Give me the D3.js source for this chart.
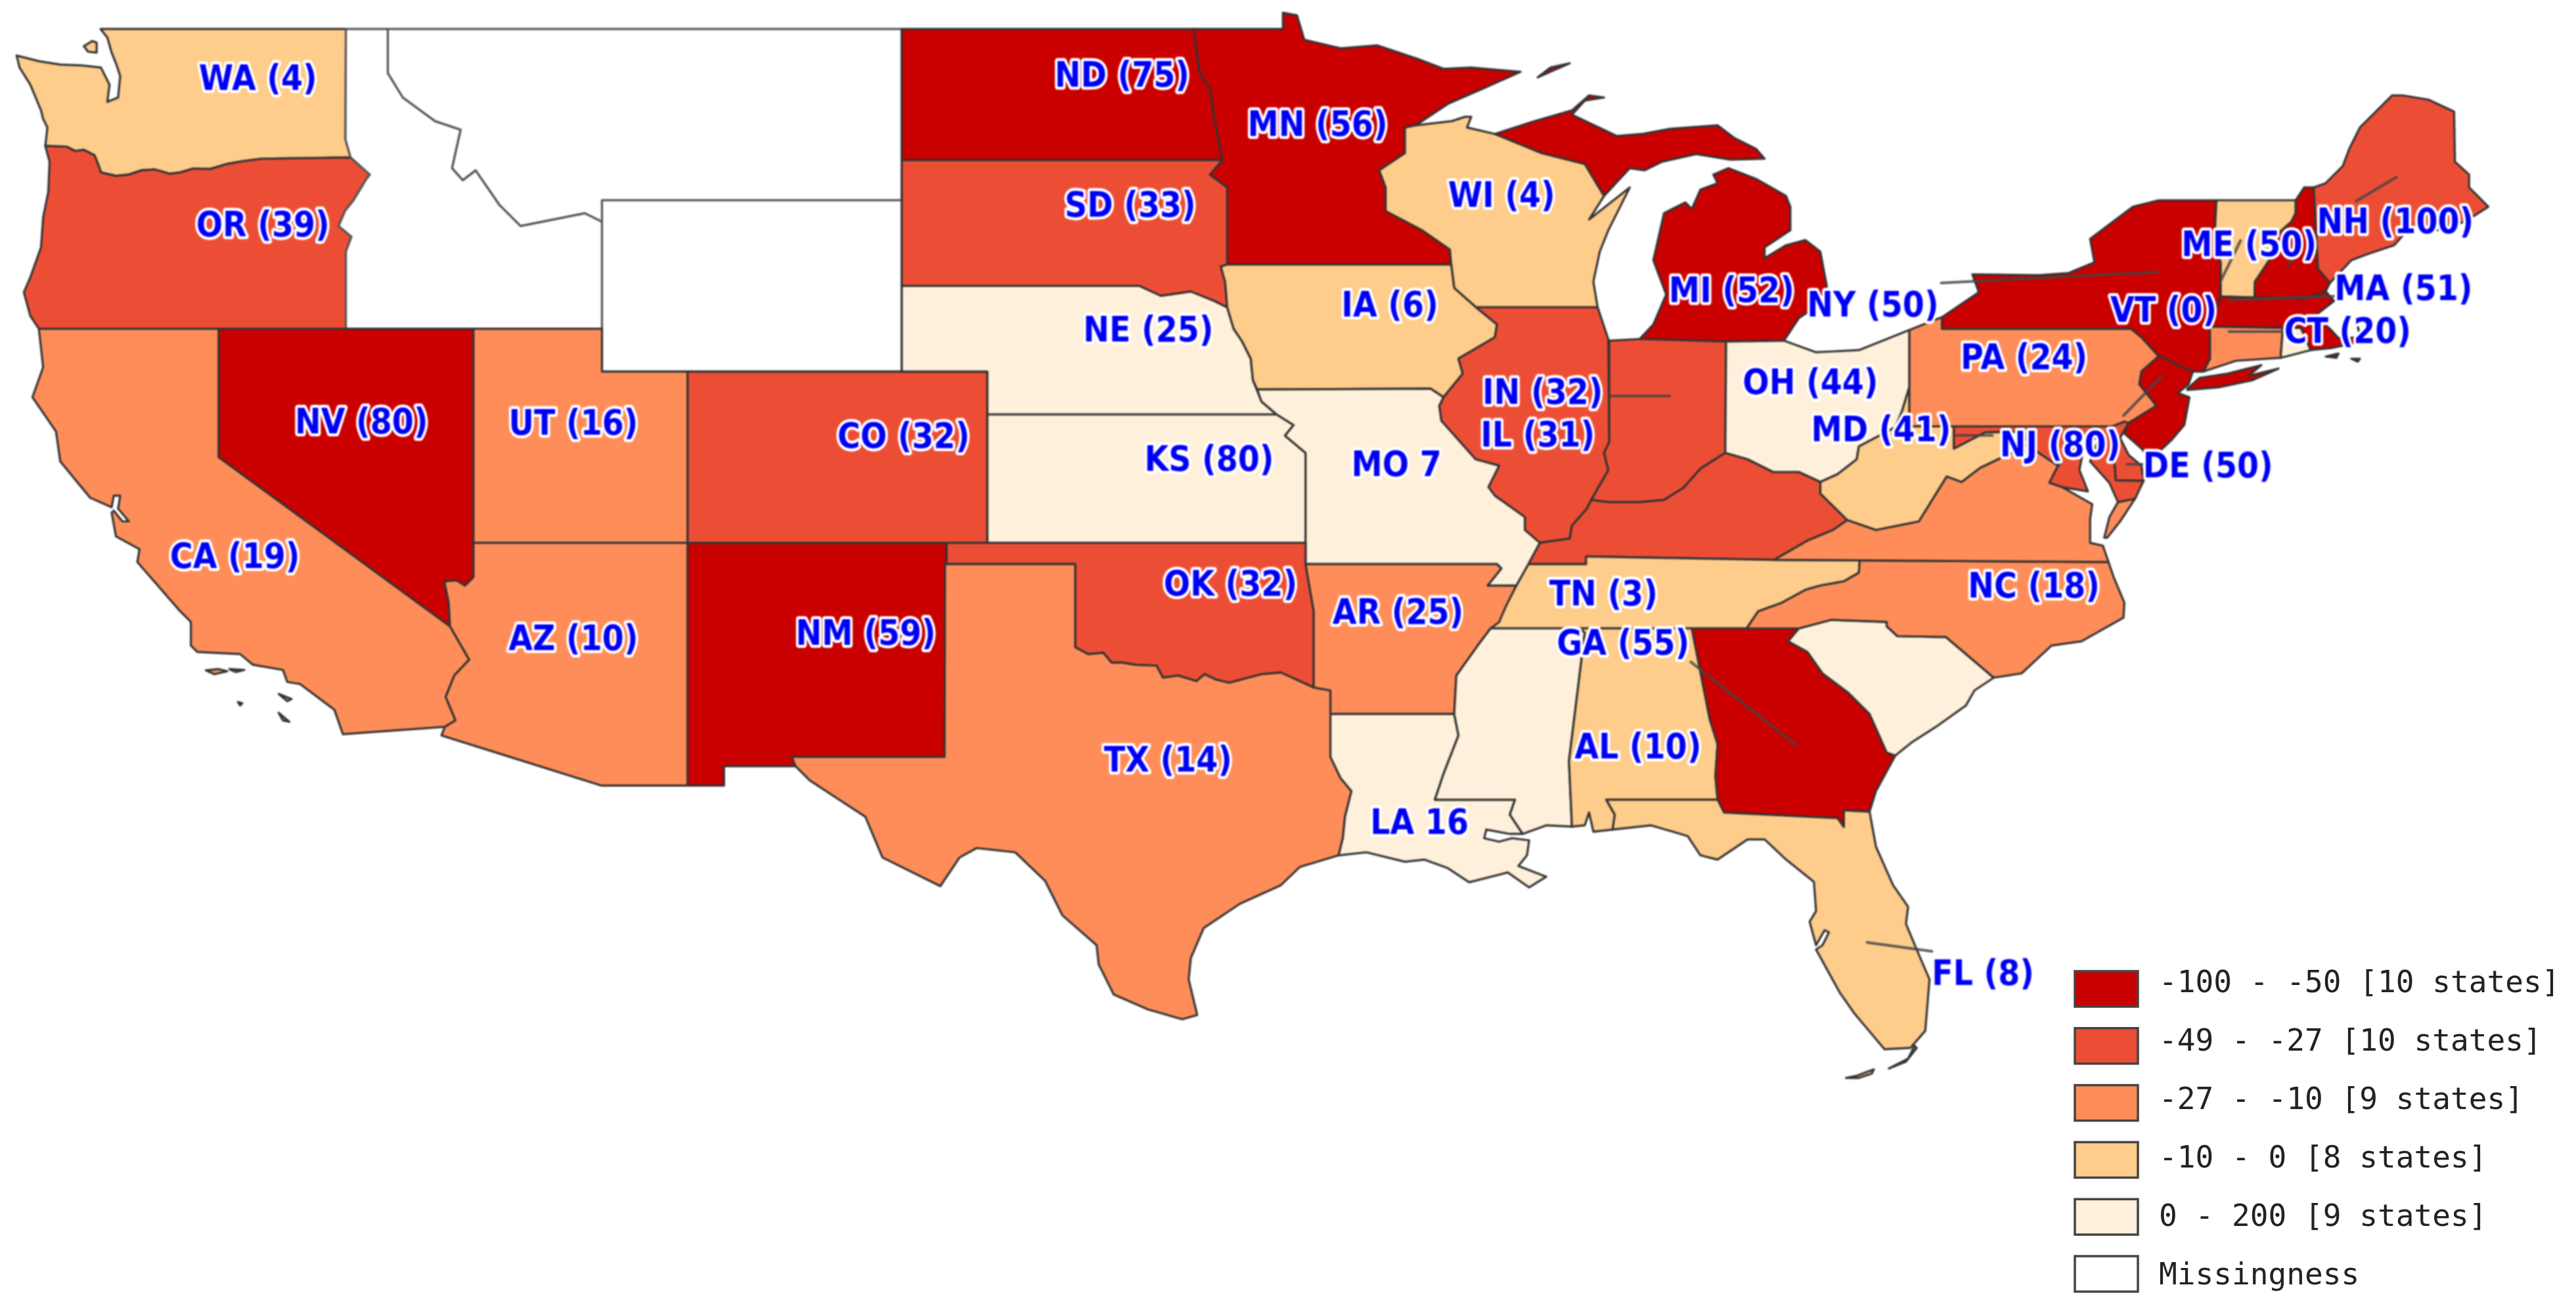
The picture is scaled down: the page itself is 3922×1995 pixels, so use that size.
<!DOCTYPE html>
<html><head><meta charset="utf-8">
<script src="https://cdn.jsdelivr.net/npm/d3@7"></script>
<style>html,body{margin:0;padding:0;background:#fff}svg{display:block}</style>
</head><body><div id="chart"></div>
<script>
// ---------- data: legend classes ----------
const classLabels = ["-100 - -50 [10 states]","-49 - -27 [10 states]","-27 - -10 [9 states]","-10 - 0 [8 states]","0 - 200 [9 states]","Missingness"];
const classColors = ["#ca0000","#ec4e35","#fe8d5a","#fecc8b","#fef0da","#ffffff"];
const classStates = [
  ["ND","MN","MI","NV","NM","GA","NY","NH","NJ","MA"],
  ["OR","SD","CO","IL","IN","OK","KY","ME","MD","DE"],
  ["CA","UT","AZ","TX","AR","NC","VA","PA","CT"],
  ["WA","WI","IA","TN","AL","FL","WV","VT"],
  ["NE","KS","MO","LA","MS","SC","OH","RI","DC"],
  ["ID","MT","WY"]
];
// ---------- data: state labels as printed ----------
const labelTexts = {WA:"WA (4)",OR:"OR (39)",NV:"NV (80)",UT:"UT (16)",CO:"CO (32)",CA:"CA (19)",AZ:"AZ (10)",NM:"NM (59)",ND:"ND (75)",MN:"MN (56)",SD:"SD (33)",WI:"WI (4)",IA:"IA (6)",NE:"NE (25)",KS:"KS (80)",MO:"MO 7",OK:"OK (32)",AR:"AR (25)",TX:"TX (14)",LA:"LA 16",IN:"IN (32)",IL:"IL (31)",TN:"TN (3)",GA:"GA (55)",AL:"AL (10)",MI:"MI (52)",NY:"NY (50)",OH:"OH (44)",MD:"MD (41)",PA:"PA (24)",NJ:"NJ (80)",DE:"DE (50)",NC:"NC (18)",VT:"VT (0)",ME:"ME (50)",NH:"NH (100)",MA:"MA (51)",CT:"CT (20)",FL:"FL (8)"};
// ---------- data: state outlines, [longitude, latitude] ----------
const redRiver=[[-100,34.56],[-99.7,34.4],[-99.34,34.43],[-99.15,34.2],[-98.9,34.2],[-98.6,34.15],[-98.1,34.13],[-97.95,33.85],[-97.6,33.9],[-97.17,33.77],[-96.98,33.93],[-96.7,33.8],[-96.4,33.73],[-95.65,33.93],[-95.2,33.97],[-94.43,33.62]];
const idahoMontana=[[-116.05,49],[-116.05,47.97],[-115.7,47.4],[-114.95,46.85],[-114.35,46.65],[-114.55,45.75],[-114.3,45.47],[-114,45.7],[-113.45,44.9],[-112.95,44.4],[-112.2,44.55],[-111.45,44.7],[-111.05,44.5]];
const WA=[[-117.03,49],[-122.76,49],[-122.6,48.8],[-122.5,48.45],[-122.4,48.2],[-122.3,47.9],[-122.35,47.4],[-122.6,47.3],[-122.55,47.7],[-122.75,48.1],[-123.2,48.15],[-123.7,48.17],[-124.2,48.25],[-124.72,48.38],[-124.65,48.1],[-124.4,47.7],[-124.15,47.1],[-124.1,46.9],[-124,46.7],[-124.05,46.27],[-123.55,46.25],[-123.35,46.15],[-123.15,46.18],[-122.9,46.05],[-122.8,45.8],[-122.75,45.65],[-122.4,45.57],[-122.1,45.6],[-121.8,45.7],[-121.5,45.72],[-121.15,45.62],[-120.9,45.65],[-120.6,45.74],[-120.2,45.73],[-119.8,45.85],[-119.4,45.92],[-119,45.97],[-116.92,46],[-117.04,46.42]];
const WA2=[[-123.15,48.6],[-122.95,48.72],[-122.85,48.68],[-122.85,48.45],[-123.05,48.47]];
const OR=[[-124.05,46.27],[-123.95,45.9],[-123.98,45.2],[-124.1,44.6],[-124.15,43.9],[-124.4,43.2],[-124.55,42.85],[-124.4,42.3],[-124.2,42],[-117.03,42],[-117.03,43.8],[-116.9,44.15],[-117.2,44.4],[-117.05,44.75],[-116.85,45],[-116.55,45.5],[-116.47,45.6],[-116.92,46],[-119,45.97],[-119.4,45.92],[-119.8,45.85],[-120.2,45.73],[-120.6,45.74],[-120.9,45.65],[-121.15,45.62],[-121.5,45.72],[-121.8,45.7],[-122.1,45.6],[-122.4,45.57],[-122.75,45.65],[-122.8,45.8],[-122.9,46.05],[-123.15,46.18],[-123.35,46.15],[-123.55,46.25]];
const ID=[[-117.03,49],...idahoMontana,[-111.05,42],[-117.03,42],[-117.03,43.8],[-116.9,44.15],[-117.2,44.4],[-117.05,44.75],[-116.85,45],[-116.55,45.5],[-116.47,45.6],[-116.92,46],[-117.04,46.42]];
const MT=[[-104.05,49],[-104.05,45],[-111.05,45],...idahoMontana.slice().reverse()];
const WY=[[-111.05,45],[-104.05,45],[-104.05,41],[-111.05,41]];
const CA=[[-124.2,42],[-120,42],[-120,39],[-114.6,35.05],[-114.15,34.27],[-114.5,33.9],[-114.7,33.4],[-114.47,32.85],[-114.72,32.7],[-117.1,32.53],[-117.3,33.1],[-118.1,33.7],[-118.4,33.75],[-118.5,34.03],[-119.2,34.15],[-119.5,34.4],[-120.5,34.45],[-120.65,34.6],[-120.65,35.15],[-120.9,35.4],[-121.9,36.55],[-121.85,36.85],[-122.4,37.15],[-122.5,37.7],[-122.45,37.75],[-122.25,37.5],[-122.1,37.5],[-122.35,37.8],[-122.3,38.1],[-122.45,38.1],[-122.5,37.83],[-123,38.05],[-123.7,38.9],[-123.8,39.6],[-124.35,40.4],[-124.1,41.1]];
const CA2=[[-120.3,34.02],[-120,34.05],[-119.8,34],[-120.1,33.93]];
const CA3=[[-119.75,34.05],[-119.4,34.03],[-119.6,33.98]];
const CA4=[[-119.55,33.28],[-119.45,33.25],[-119.5,33.2]];
const CA5=[[-118.6,33.47],[-118.3,33.35],[-118.4,33.3]];
const CA6=[[-118.6,33.03],[-118.35,32.82],[-118.5,32.85]];
const NV=[[-120,42],[-114.05,42],[-114.05,36.2],[-114.25,36],[-114.45,36.12],[-114.73,36.1],[-114.63,35.6],[-114.6,35.05],[-120,39]];
const UT=[[-114.05,42],[-111.05,42],[-111.05,41],[-109.05,41],[-109.05,37],[-114.05,37]];
const AZ=[[-114.05,37],[-109.05,37],[-109.05,31.33],[-111.07,31.33],[-114.8,32.5],[-114.72,32.7],[-114.47,32.85],[-114.7,33.4],[-114.5,33.9],[-114.15,34.27],[-114.6,35.05],[-114.63,35.6],[-114.73,36.1],[-114.45,36.12],[-114.25,36],[-114.05,36.2]];
const NM=[[-109.05,37],[-103,37],[-103.05,32],[-106.62,32],[-106.53,31.78],[-108.2,31.78],[-108.2,31.33],[-109.05,31.33]];
const CO=[[-109.05,41],[-102.05,41],[-102.05,37],[-109.05,37]];
const KS=[[-102.05,40],[-95.3,40],[-94.9,39.75],[-95.1,39.5],[-94.62,39.1],[-94.62,37],[-102.05,37]];
const NE=[[-104.05,43],[-98.5,43],[-98,42.77],[-97.3,42.87],[-96.75,42.65],[-96.45,42.5],[-96.3,42],[-96.1,41.7],[-95.9,41.3],[-95.85,40.8],[-95.65,40.3],[-95.3,40],[-102.05,40],[-102.05,41],[-104.05,41]];
const SD=[[-104.05,45.94],[-96.56,45.94],[-96.85,45.6],[-96.45,45.3],[-96.45,43.5],[-96.6,43.45],[-96.5,43.1],[-96.45,42.5],[-96.75,42.65],[-97.3,42.87],[-98,42.77],[-98.5,43],[-104.05,43]];
const ND=[[-104.05,49],[-97.23,49],[-97.1,48],[-96.85,47.6],[-96.75,46.9],[-96.56,45.94],[-104.05,45.94]];
const MN=[[-97.23,49],[-95.15,49],[-95.15,49.38],[-94.82,49.32],[-94.65,48.75],[-93.8,48.55],[-92.95,48.62],[-92,48.3],[-91.4,48.07],[-90.75,48.1],[-89.6,48],[-90.5,47.6],[-91.3,47.25],[-92.05,46.75],[-92.3,46.7],[-92.3,46.1],[-92.9,45.7],[-92.75,45.3],[-92.75,44.75],[-91.9,44.3],[-91.25,43.85],[-91.22,43.5],[-96.45,43.5],[-96.45,45.3],[-96.85,45.6],[-96.56,45.94],[-96.75,46.9],[-96.85,47.6],[-97.1,48]];
const MI_ISLE=[[-89.2,47.87],[-88.45,48.2],[-88.9,48.1]];
const WI=[[-92.05,46.75],[-91.2,46.85],[-90.9,46.95],[-90.75,46.95],[-90.85,46.7],[-90.2,46.55],[-89.1,46.1],[-88.1,45.85],[-87.8,45.35],[-87.65,45.1],[-88,44.55],[-87.05,45.3],[-87.55,44.3],[-87.75,43.8],[-87.9,43.1],[-87.8,42.5],[-90.64,42.5],[-91.15,42.95],[-91.22,43.5],[-91.25,43.85],[-91.9,44.3],[-92.75,44.75],[-92.75,45.3],[-92.9,45.7],[-92.3,46.1],[-92.3,46.7]];
const MI_UP=[[-90.2,46.55],[-89.3,46.84],[-88.4,47.1],[-88,47.45],[-87.65,47.4],[-88.1,47.33],[-88.4,47],[-87.35,46.5],[-86.75,46.55],[-86.1,46.67],[-85,46.75],[-84.6,46.45],[-84.1,46.2],[-83.9,45.97],[-84.7,45.95],[-85.5,46.08],[-86.3,45.9],[-86.7,45.7],[-87.05,45.75],[-87.65,45.1],[-87.8,45.35],[-88.1,45.85],[-89.1,46.1]];
const MI_LP=[[-84.75,45.75],[-84.1,45.5],[-83.4,45.1],[-83.3,44.85],[-83.3,44.3],[-83.9,43.9],[-83.9,43.65],[-83.4,43.95],[-82.95,44.07],[-82.6,43.8],[-82.45,43],[-82.5,42.65],[-83.1,42.25],[-83.45,41.72],[-84.8,41.7],[-86.82,41.76],[-86.5,42.1],[-86.2,42.8],[-86.5,43.6],[-86.25,44.7],[-85.75,44.95],[-85.6,44.8],[-85.4,45.25],[-85,45.4],[-85.1,45.6]];
const IA=[[-96.45,43.5],[-91.22,43.5],[-91.15,42.95],[-90.64,42.5],[-90.15,42.1],[-90.2,41.8],[-91.05,41.3],[-90.95,40.95],[-91.4,40.4],[-91.7,40.6],[-95.75,40.58],[-95.85,40.8],[-95.9,41.3],[-96.1,41.7],[-96.3,42],[-96.45,42.5],[-96.5,43.1],[-96.6,43.45]];
const IL=[[-90.64,42.5],[-87.8,42.5],[-87.55,41.75],[-87.53,39.35],[-87.65,39.1],[-87.55,38.7],[-87.95,38],[-88.05,37.8],[-88.4,37.4],[-88.45,37.1],[-89.15,37],[-89.5,37.3],[-89.5,37.6],[-90.2,38.1],[-90.35,38.3],[-90.1,38.8],[-90.65,38.95],[-91.45,39.85],[-91.5,40.2],[-91.4,40.4],[-90.95,40.95],[-91.05,41.3],[-90.2,41.8],[-90.15,42.1]];
const IN=[[-87.53,41.72],[-86.82,41.76],[-84.8,41.7],[-84.82,39.1],[-84.9,39.05],[-85.4,38.73],[-85.8,38.28],[-86.25,38],[-86.8,37.95],[-87.55,37.95],[-87.95,38],[-87.55,38.7],[-87.65,39.1],[-87.53,39.35]];
const OH=[[-84.8,41.7],[-83.45,41.72],[-82.7,41.45],[-81.7,41.5],[-80.52,41.97],[-80.52,40.64],[-80.7,40.05],[-80.85,39.7],[-81.7,39.25],[-81.75,38.95],[-82.2,38.6],[-82.6,38.42],[-83.1,38.65],[-83.7,38.65],[-84.3,38.95],[-84.82,39.1]];
const KY=[[-89.42,36.5],[-88.07,36.5],[-88.07,36.68],[-83.68,36.6],[-82.9,37.05],[-82.3,37.3],[-81.97,37.53],[-82.6,38.15],[-82.6,38.42],[-83.1,38.65],[-83.7,38.65],[-84.3,38.95],[-84.82,39.1],[-84.9,39.05],[-85.4,38.73],[-85.8,38.28],[-86.25,38],[-86.8,37.95],[-87.55,37.95],[-87.95,38],[-88.05,37.8],[-88.4,37.4],[-88.45,37.1],[-89.15,37]];
const TN=[[-90.3,35],[-89.7,36],[-89.42,36.5],[-88.07,36.5],[-88.07,36.68],[-83.68,36.6],[-81.68,36.59],[-81.7,36.3],[-82.05,36.1],[-82.6,36],[-82.95,35.9],[-83.5,35.6],[-84.05,35.4],[-84.32,35]];
const MO=[[-95.75,40.58],[-91.7,40.6],[-91.4,40.4],[-91.5,40.2],[-91.45,39.85],[-90.65,38.95],[-90.1,38.8],[-90.35,38.3],[-90.2,38.1],[-89.5,37.6],[-89.5,37.3],[-89.15,37],[-89.42,36.5],[-89.7,36],[-90.37,36],[-90.05,36.4],[-90.15,36.5],[-94.62,36.5],[-94.62,39.1],[-95.1,39.5],[-94.9,39.75],[-95.3,40],[-95.65,40.3]];
const OK=[[-103,37],[-94.62,37],[-94.62,36.5],[-94.43,35.4],...redRiver.slice().reverse(),[-100,36.5],[-103,36.5]];
const TX=[[-103.04,36.5],[-100,36.5],...redRiver,[-94.04,33.55],[-94.04,32],[-93.8,31.5],[-93.55,31.2],[-93.7,30.6],[-93.75,30.1],[-93.85,29.7],[-94.75,29.43],[-95.2,29],[-96.15,28.57],[-97,28],[-97.3,27.3],[-97.35,26.8],[-97.15,25.97],[-97.5,25.87],[-98.3,26.1],[-99.1,26.45],[-99.45,27.15],[-99.5,27.6],[-100.3,28.3],[-100.7,29.1],[-101.4,29.77],[-102.3,29.87],[-102.7,29.65],[-103.15,28.98],[-104.5,29.65],[-104.9,30.6],[-106.2,31.45],[-106.53,31.78],[-106.62,32],[-103.05,32]];
const AR=[[-94.62,36.5],[-90.15,36.5],[-90.05,36.4],[-90.37,36],[-89.7,36],[-89.95,35.5],[-90.1,35.15],[-90.3,35],[-90.6,34.6],[-91.1,33.9],[-91.15,33],[-94.04,33],[-94.04,33.55],[-94.43,33.62],[-94.43,35.4]];
const LA=[[-94.04,33],[-91.15,33],[-91.05,32.5],[-91.4,31.6],[-91.6,31],[-89.73,31],[-89.85,30.65],[-89.55,30.2],[-89.85,30.2],[-90.4,30.3],[-90.45,30.1],[-90.1,30.02],[-89.8,30.1],[-89.4,30.05],[-89.45,29.7],[-89.65,29.45],[-89,29.2],[-89.4,28.95],[-89.9,29.3],[-90.8,29.07],[-91.3,29.4],[-91.85,29.6],[-92.3,29.55],[-93.2,29.77],[-93.85,29.7],[-93.75,30.1],[-93.7,30.6],[-93.55,31.2],[-93.8,31.5],[-94.04,32]];
const MS=[[-90.3,35],[-88.2,35],[-88.1,34.9],[-88.47,31.9],[-88.4,30.37],[-89,30.4],[-89.55,30.2],[-89.85,30.65],[-89.73,31],[-91.6,31],[-91.4,31.6],[-91.05,32.5],[-91.15,33],[-91.1,33.9],[-90.6,34.6]];
const AL=[[-88.2,35],[-85.6,35],[-85.18,32.87],[-85,32.3],[-85.05,31.55],[-85,31],[-87.6,31],[-87.4,30.65],[-87.45,30.3],[-87.9,30.25],[-88,30.7],[-88.1,30.4],[-88.4,30.37],[-88.47,31.9],[-88.1,34.9]];
const GA=[[-85.6,35],[-83.1,35],[-83.35,34.7],[-82.9,34.45],[-82.55,33.95],[-81.95,33.5],[-81.45,33],[-81.05,32.1],[-80.85,32.03],[-81.3,31.2],[-81.45,30.72],[-82.05,30.75],[-82.05,30.36],[-82.2,30.57],[-84.85,30.7],[-85,31],[-85.05,31.55],[-85,32.3],[-85.18,32.87]];
const FL=[[-85,31],[-84.85,30.7],[-82.2,30.57],[-82.05,30.36],[-82.05,30.75],[-81.45,30.72],[-81.3,29.9],[-80.9,29],[-80.55,28.5],[-80.6,28.1],[-80.35,27.5],[-80.05,26.8],[-80.15,25.6],[-80.5,25.2],[-81.1,25.17],[-81.8,26],[-82.15,26.5],[-82.7,27.5],[-82.55,27.6],[-82.4,27.9],[-82.5,27.95],[-82.7,27.6],[-82.85,28.15],[-82.7,28.4],[-82.75,29.08],[-83.4,29.6],[-83.9,30.07],[-84.3,30.07],[-85,29.6],[-85.4,29.7],[-85.7,30.15],[-86.55,30.4],[-87.45,30.3],[-87.4,30.65],[-87.6,31]];
const FL2=[[-81.35,24.7],[-81.75,24.55],[-82,24.5],[-81.7,24.5],[-81.4,24.6]];
const FL3=[[-80.4,25.25],[-80.55,24.95],[-81,24.72],[-80.6,24.88],[-80.35,25.2]];
const SC=[[-83.1,35],[-82.35,35.2],[-81.05,35.15],[-81.05,35.05],[-80.8,34.82],[-79.67,34.8],[-78.55,33.85],[-79,33.55],[-79.2,33.2],[-79.9,32.7],[-80.45,32.35],[-80.85,32.03],[-81.05,32.1],[-81.45,33],[-81.95,33.5],[-82.55,33.95],[-82.9,34.45],[-83.35,34.7]];
const NC=[[-84.32,35],[-84.05,35.4],[-83.5,35.6],[-82.95,35.9],[-82.6,36],[-82.05,36.1],[-81.7,36.3],[-81.68,36.59],[-75.87,36.55],[-75.75,36.2],[-75.5,35.6],[-75.52,35.25],[-76.5,34.7],[-77.2,34.6],[-77.9,33.95],[-78.55,33.85],[-79.67,34.8],[-80.8,34.82],[-81.05,35.05],[-81.05,35.15],[-82.35,35.2],[-83.1,35]];
const VA=[[-83.68,36.6],[-81.68,36.59],[-75.87,36.55],[-76,36.93],[-76.3,37],[-76.3,37.55],[-76.25,37.9],[-76.95,38.3],[-77.25,38.4],[-77.05,38.8],[-77.5,39.1],[-77.75,39.3],[-78.35,39],[-78.87,38.75],[-79.3,38.42],[-79.65,38.55],[-80.3,37.5],[-81.3,37.3],[-81.97,37.53],[-82.3,37.3],[-82.9,37.05]];
const VA2=[[-75.97,37.12],[-75.85,37.6],[-75.65,37.95],[-75.25,38.03],[-75.6,37.5],[-75.9,37.12]];
const WV=[[-82.6,38.42],[-82.2,38.6],[-81.75,38.95],[-81.7,39.25],[-80.85,39.7],[-80.7,40.05],[-80.52,40.64],[-80.52,39.72],[-79.48,39.72],[-79.48,39.2],[-78.75,39.58],[-77.85,39.6],[-77.75,39.3],[-78.35,39],[-78.87,38.75],[-79.3,38.42],[-79.65,38.55],[-80.3,37.5],[-81.3,37.3],[-81.97,37.53],[-82.6,38.15]];
const MD=[[-79.48,39.72],[-75.79,39.72],[-75.7,38.46],[-75.05,38.45],[-75.25,38.03],[-75.65,37.95],[-75.85,38.4],[-76.3,38.9],[-76.15,39.3],[-76.05,39.55],[-76.45,39.2],[-76.55,38.7],[-76.35,38.2],[-76.95,38.3],[-77.25,38.4],[-77.05,38.8],[-77.5,39.1],[-77.75,39.3],[-77.85,39.6],[-78.75,39.58],[-79.48,39.2]];
const DE=[[-75.79,39.72],[-75.5,39.83],[-75.4,39.8],[-75.6,39.45],[-75.4,39.05],[-75.1,38.8],[-75.05,38.45],[-75.7,38.46]];
const DC=[[-77.12,38.93],[-77.04,39],[-76.95,38.9],[-77.04,38.8]];
const PA=[[-80.52,41.97],[-79.76,42.27],[-79.76,42],[-75.35,42],[-75.1,41.8],[-74.7,41.36],[-75.1,41],[-75.15,40.7],[-74.75,40.2],[-75.4,39.8],[-75.5,39.83],[-75.79,39.72],[-80.52,39.72]];
const NJ=[[-74.7,41.36],[-73.9,41],[-74,40.7],[-74.25,40.5],[-73.98,40.4],[-74.1,39.75],[-74.4,39.4],[-74.9,38.93],[-75.1,39.2],[-75.5,39.55],[-75.4,39.8],[-74.75,40.2],[-75.15,40.7],[-75.1,41]];
const NY=[[-79.76,42.27],[-78.9,42.85],[-79.05,43.27],[-77.5,43.25],[-76.8,43.3],[-76.2,43.55],[-76.3,44.1],[-75.3,44.85],[-74.7,45],[-73.35,45],[-73.4,44],[-73.25,43.55],[-73.25,42.75],[-73.5,42.05],[-73.5,41.3],[-73.65,41],[-73.9,41],[-74.7,41.36],[-75.1,41.8],[-75.35,42],[-79.76,42]];
const NY2=[[-74.03,40.6],[-73.75,40.85],[-73.1,40.95],[-72.3,41.15],[-72.6,40.9],[-71.9,41.07],[-72.5,40.8],[-73.3,40.63],[-74.03,40.57]];
const VT=[[-73.35,45],[-71.5,45],[-71.5,44.7],[-71.6,44.5],[-72.05,44.1],[-72.05,43.7],[-72.45,43.1],[-72.46,42.73],[-73.25,42.75],[-73.25,43.55],[-73.4,44]];
const NH=[[-71.5,45],[-71.3,45.3],[-71.08,45.3],[-70.98,43.4],[-70.7,43.07],[-70.8,42.87],[-71.3,42.7],[-72.46,42.73],[-72.45,43.1],[-72.05,43.7],[-72.05,44.1],[-71.6,44.5],[-71.5,44.7]];
const ME=[[-71.08,45.3],[-70.8,45.4],[-70.4,45.8],[-70.25,46.2],[-70,46.7],[-69.25,47.45],[-69,47.45],[-68.4,47.35],[-67.8,47.07],[-67.78,45.9],[-67.45,45.6],[-67.45,45.3],[-67,44.85],[-67.55,44.5],[-68.2,44.3],[-68.8,44.4],[-69.2,43.95],[-69.8,43.75],[-70.2,43.6],[-70.7,43.07],[-70.98,43.4]];
const MA=[[-73.5,42.05],[-73.25,42.75],[-72.46,42.73],[-71.3,42.7],[-70.8,42.87],[-70.6,42.65],[-71.05,42.3],[-70.7,42],[-70.5,41.78],[-70,41.8],[-70.05,42.05],[-69.95,41.7],[-70.65,41.55],[-71.15,41.5],[-71.38,42.02],[-71.8,42.02]];
const MA2=[[-70.8,41.35],[-70.5,41.42],[-70.55,41.32]];
const MA3=[[-70.2,41.3],[-70,41.3],[-70.05,41.23]];
const CT=[[-73.5,42.05],[-71.8,42.02],[-71.85,41.32],[-72.9,41.25],[-73.65,41],[-73.5,41.3]];
const RI=[[-71.8,42.02],[-71.38,42.02],[-71.15,41.5],[-71.85,41.32]];
const outlines={WA:[WA,WA2],OR:[OR],ID:[ID],MT:[MT],WY:[WY],CA:[CA,CA2,CA3,CA4,CA5,CA6],NV:[NV],UT:[UT],AZ:[AZ],NM:[NM],CO:[CO],KS:[KS],NE:[NE],SD:[SD],ND:[ND],MN:[MN,MI_ISLE],WI:[WI],MI:[MI_UP,MI_LP],IA:[IA],IL:[IL],IN:[IN],OH:[OH],KY:[KY],TN:[TN],MO:[MO],OK:[OK],TX:[TX],AR:[AR],LA:[LA],MS:[MS],AL:[AL],GA:[GA],FL:[FL,FL2,FL3],SC:[SC],NC:[NC],VA:[VA,VA2],WV:[WV],MD:[MD],DE:[DE],DC:[DC],PA:[PA],NJ:[NJ],NY:[NY,NY2],VT:[VT],NH:[NH],ME:[ME],MA:[MA,MA2,MA3],CT:[CT],RI:[RI]};

// ---------- layout (page pixels) ----------
const W=3922,H=1995, K=2.5013;
const labelAt={WA:[157,47],OR:[160,136],NV:[220,256],UT:[349,257],CO:[550,265],CA:[143,338],AZ:[349,388],NM:[527,385],ND:[683,45],MN:[802,75],SD:[688,124],WI:[914,118],IA:[846,185],NE:[699,200],KS:[736,279],MO:[850,282],OK:[749,355],AR:[851,372],TX:[711,462],LA:[864,500],IN:[939,238],IL:[936,264],TN:[976,361],GA:[988,391],AL:[997,454],MI:[1054,176],NY:[1140,185],OH:[1102,232],MD:[1145,261],PA:[1232,217],NJ:[1254,270],DE:[1344,283],NC:[1238,356],VT:[1317,188],ME:[1369,148],NH:[1458,134],MA:[1463,175],CT:[1429,201],FL:[1207,592]};
const leaders=[[2573,1007,2736,1136],[2841,1435,2943,1449],[2452,603,2544,603],[2954,431,3287,414],[3586,307,3650,269],[3482,405,3505,380],[3412,365,3380,430],[3393,457,3556,451],[3392,505,3477,505],[3292,572,3232,634],[3237,707,3263,707],[2975,663,3035,663]];

// ---------- drawing ----------
const svg=d3.select("#chart").append("svg").attr("width",W).attr("height",H).attr("viewBox",`0 0 ${W} ${H}`);
svg.append("rect").attr("width",W).attr("height",H).attr("fill","#fff");
const projection=d3.geoIdentity().reflectY(true).scale(65.2).translate([8157,3239]);
const path=d3.geoPath(projection);
const color=d3.scaleOrdinal().domain(d3.range(classLabels.length)).range(classColors);
const classOf={}; classStates.forEach((s,i)=>s.forEach(a=>classOf[a]=i));
const features=Object.keys(outlines).map(id=>({type:"Feature",id,properties:{cls:classOf[id]},
  geometry:{type:"MultiPolygon",coordinates:outlines[id].map(r=>[[...r,r[0]]])}}));
const map=svg.append("g").attr("style","filter:blur(0.9px)");
map.selectAll("path.state").data(features).join("path").attr("class","state")
  .attr("d",path).attr("fill",d=>color(d.properties.cls))
  .attr("stroke",d=>d.properties.cls===5?"#555":"#333").attr("stroke-width",3.2).attr("stroke-linejoin","round");
map.selectAll("line.leader").data(leaders).join("line").attr("class","leader")
  .attr("x1",d=>d[0]).attr("y1",d=>d[1]).attr("x2",d=>d[2]).attr("y2",d=>d[3])
  .attr("stroke","#444").attr("stroke-width",4).attr("stroke-opacity",.85);
map.selectAll("text.lab").data(Object.keys(labelTexts)).join("text").attr("class","lab")
  .attr("transform",d=>`translate(${labelAt[d][0]*K},${labelAt[d][1]*K}) scale(.88,1)`).attr("dy",".36em")
  .attr("text-anchor","middle").attr("font-family","'DejaVu Sans',sans-serif").attr("font-weight",700).attr("font-size",54)
  .attr("fill","#0000f5").attr("stroke","#fff").attr("stroke-width",9).attr("stroke-linejoin","round").attr("paint-order","stroke")
  .text(d=>labelTexts[d]);
// legend
const rowY=d3.scalePoint().domain(d3.range(classLabels.length)).range([1479,1913]);
const textY=d3.scalePoint().domain(d3.range(classLabels.length)).range([1511,1956]);
const legend=svg.append("g").attr("style","filter:blur(0.7px)").selectAll("g").data(classLabels).join("g");
legend.append("rect").attr("x",3159).attr("y",(d,i)=>rowY(i)).attr("width",96).attr("height",54).attr("fill",(d,i)=>color(i)).attr("stroke","#444").attr("stroke-width",3.5);
legend.append("text").attr("x",3287).attr("y",(d,i)=>textY(i)).attr("font-family","'DejaVu Sans Mono',monospace").attr("font-size",46.1).attr("fill","#222").text(d=>d);
</script></body></html>
